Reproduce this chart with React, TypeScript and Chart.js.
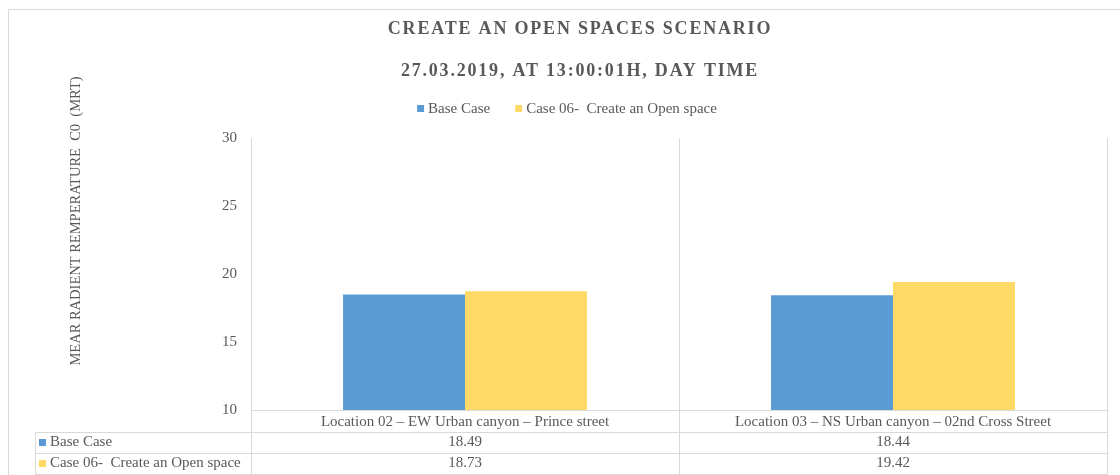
import React, { useEffect, useRef } from "react";
import { Chart, registerables } from "chart.js";

Chart.register(...registerables);

const categories = [
  "Location 02 – EW Urban canyon – Prince street",
  "Location 03 – NS Urban canyon – 02nd Cross Street",
];
const seriesNames = ["Base Case", "Case 06-  Create an Open space"];
const baseCase = [18.49, 18.44];
const openSpace = [18.73, 19.42];
const yTicks = [10, 15, 20, 25, 30];
const titleLines = ["CREATE AN OPEN SPACES SCENARIO", "27.03.2019, AT 13:00:01H, DAY TIME"];
const yAxisTitle = "MEAR RADIENT REMPERATURE  C0  (MRT)";
const seriesColors = ["#5B9BD5", "#FFD966"];

const FONT = '"Liberation Serif", "Times New Roman", serif';
const TEXT = "#595959";
const LINE = "#D9D9D9";

const decor = {
  id: "decor",
  afterDraw(chart: any) {
    const ctx = chart.ctx as CanvasRenderingContext2D;
    const { left, right, bottom } = chart.chartArea;
    const xs = chart.scales.x;
    const n = categories.length;
    const p = categories.map((_, i) => xs.getPixelForValue(i));
    const bounds: number[] = [left];
    for (let i = 0; i < n - 1; i++) bounds.push((p[i] + p[i + 1]) / 2);
    bounds.push(right);

    ctx.save();
    // outer border
    ctx.strokeStyle = LINE;
    ctx.lineWidth = 1;
    ctx.strokeRect(8.5, 9.5, 1200, 600);

    // titles
    ctx.fillStyle = TEXT;
    ctx.font = `bold 18px ${FONT}`;
    (ctx as any).letterSpacing = "1.8px";
    ctx.textAlign = "center";
    ctx.textBaseline = "alphabetic";
    ctx.fillText(titleLines[0], 580, 34);
    ctx.fillText(titleLines[1], 580, 76);
    (ctx as any).letterSpacing = "0px";

    // legend
    ctx.font = `15px ${FONT}`;
    ctx.textAlign = "left";
    ctx.textBaseline = "middle";
    const widths = seriesNames.map((s) => ctx.measureText(s).width);
    const gap = 25;
    const total = widths.reduce((a, w) => a + 11 + w, 0) + gap * (seriesNames.length - 1);
    let lx = 567 - total / 2;
    seriesNames.forEach((s, i) => {
      ctx.fillStyle = seriesColors[i];
      ctx.fillRect(lx, 105, 7, 7);
      ctx.fillStyle = TEXT;
      ctx.fillText(s, lx + 11, 109);
      lx += 11 + widths[i] + gap;
    });

    // y axis title
    ctx.save();
    ctx.translate(76, 221);
    ctx.rotate(-Math.PI / 2);
    ctx.font = `14.5px ${FONT}`;
    ctx.textAlign = "center";
    ctx.textBaseline = "middle";
    ctx.fillStyle = TEXT;
    ctx.fillText(yAxisTitle, 0, 0);
    ctx.restore();

    // data table
    const rows = [bottom + 22, bottom + 43, bottom + 64];
    const tableLeft = 35;
    ctx.strokeStyle = LINE;
    ctx.beginPath();
    bounds.forEach((b) => {
      const x = Math.round(b) + 0.5;
      ctx.moveTo(x, bottom);
      ctx.lineTo(x, rows[2]);
    });
    rows.forEach((y) => {
      ctx.moveTo(tableLeft, y + 0.5);
      ctx.lineTo(Math.round(right) + 1, y + 0.5);
    });
    ctx.moveTo(tableLeft + 0.5, rows[0]);
    ctx.lineTo(tableLeft + 0.5, rows[2]);
    ctx.stroke();

    const data = [baseCase, openSpace];
    ctx.font = `15px ${FONT}`;
    ctx.textBaseline = "middle";
    data.forEach((vals, r) => {
      const yTop = r === 0 ? rows[0] : rows[1];
      const yc = yTop + 10.5;
      ctx.fillStyle = seriesColors[r];
      ctx.fillRect(39, yc - 3.5, 7, 7);
      ctx.fillStyle = TEXT;
      ctx.textAlign = "left";
      ctx.fillText(seriesNames[r], 50, yc);
      ctx.textAlign = "center";
      vals.forEach((v, i) => ctx.fillText(v.toFixed(2), p[i], yc));
    });
    ctx.restore();
  },
};

export default function App() {
  const ref = useRef<HTMLCanvasElement | null>(null);
  useEffect(() => {
    if (!ref.current) return;
    const chart = new Chart(ref.current, {
      type: "bar",
      data: {
        labels: categories,
        datasets: [
          { label: seriesNames[0], data: baseCase, backgroundColor: seriesColors[0], borderWidth: 0 },
          { label: seriesNames[1], data: openSpace, backgroundColor: seriesColors[1], borderWidth: 0 },
        ],
      },
      options: {
        responsive: false,
        animation: false,
        events: [],
        datasets: { bar: { barPercentage: 1, categoryPercentage: 0.57 } },
        layout: { padding: { top: 138, right: 13, bottom: 0, left: 0 } },
        plugins: { legend: { display: false }, tooltip: { enabled: false }, title: { display: false } },
        scales: {
          x: {
            offset: true,
            grid: { display: true, offset: true, color: LINE, drawTicks: false },
            border: { display: true, color: LINE },
            ticks: { padding: 3, color: TEXT, font: { family: FONT, size: 15 }, maxRotation: 0, autoSkip: false },
            afterFit: (s: any) => { s.height = 65; },
          },
          y: {
            min: yTicks[0],
            max: yTicks[yTicks.length - 1],
            grid: { display: false, drawTicks: false },
            border: { display: true, color: LINE },
            ticks: { stepSize: 5, padding: 14, color: TEXT, font: { family: FONT, size: 15 } },
            afterFit: (s: any) => { s.width = 251; },
          },
        },
      },
      plugins: [decor],
    });
    return () => chart.destroy();
  }, []);
  return (
    <div style={{ position: "absolute", left: 0, top: 0, width: 1120, height: 475, background: "#fff" }}>
      <canvas ref={ref} width={1120} height={475} />
    </div>
  );
}
